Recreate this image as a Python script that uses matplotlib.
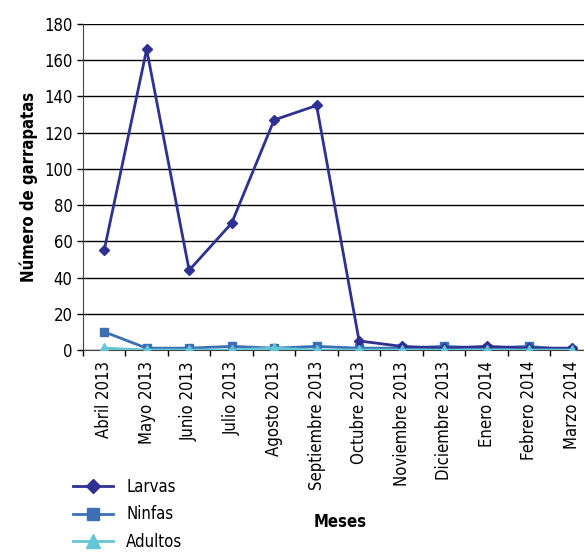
import matplotlib
matplotlib.use("Agg")
import matplotlib.pyplot as plt
import numpy as np

plt.rcParams["font.family"] = ["DejaVu Sans"]
plt.rcParams["font.stretch"] = "condensed"

# ── data ────────────────────────────────────────────────────
MESES = ["Abril 2013", "Mayo 2013", "Junio 2013", "Julio 2013", "Agosto 2013",
         "Septiembre 2013", "Octubre 2013", "Noviembre 2013", "Diciembre 2013",
         "Enero 2014", "Febrero 2014", "Marzo 2014"]
LARVAS  = [55, 166, 44, 70, 127, 135, 5, 2, 1, 2, 1, 1]
NINFAS  = [10, 1, 1, 2, 1, 2, 1, 1, 2, 1, 2, 0]
ADULTOS = [1, 0, 0, 0, 1, 0, 0, 0, 0, 0, 0, 0]
Y_TICKS = list(range(0, 181, 20))

COLORS = {"Larvas": "#2E3192", "Ninfas": "#3C6FB6", "Adultos": "#62C6D4"}

fig = plt.figure(figsize=(5.84, 5.55), dpi=100)
ax = fig.add_axes([0.142, 0.3694, 0.873, 0.5874])

x = np.arange(len(MESES))
ax.plot(x, LARVAS, color=COLORS["Larvas"], marker="D", markersize=5, lw=2, label="Larvas", zorder=5)
ax.plot(x, NINFAS, color=COLORS["Ninfas"], marker="s", markersize=6, lw=2, label="Ninfas", zorder=4)
ax.plot(x, ADULTOS, color=COLORS["Adultos"], marker="^", markersize=7, lw=2, label="Adultos", zorder=6)

ax.set_xlim(-0.5, len(MESES) - 0.5)
ax.set_ylim(0, 180)
ax.set_yticks(Y_TICKS)
ax.yaxis.grid(True, color="black", lw=1)
ax.set_axisbelow(True)

ax.set_xticks(x)
ax.set_xticklabels(MESES, rotation=90, fontsize=12)
ax.set_xticks(np.arange(-0.5, len(MESES), 1), minor=True)
ax.tick_params(axis="x", which="major", length=0, pad=8)
ax.tick_params(axis="x", which="minor", length=4, direction="out", width=1)
ax.tick_params(axis="y", length=4, direction="out", labelsize=12, width=1)

for s in ["top", "right"]:
    ax.spines[s].set_visible(False)
ax.spines["left"].set_color("#444444")
ax.spines["bottom"].set_color("#444444")

ax.set_ylabel("Número de garrapatas", fontsize=12, fontweight="bold", labelpad=4)
fig.text(0.582, 0.06, "Meses", fontsize=12, fontweight="bold", ha="center", va="center")

leg = fig.legend(loc="lower left", bbox_to_anchor=(0.105, -0.014), frameon=False,
                 fontsize=12, handlelength=2.4, labelspacing=0.58, borderpad=0.2,
                 markerscale=1.4)

plt.savefig("out.png", dpi=100)
